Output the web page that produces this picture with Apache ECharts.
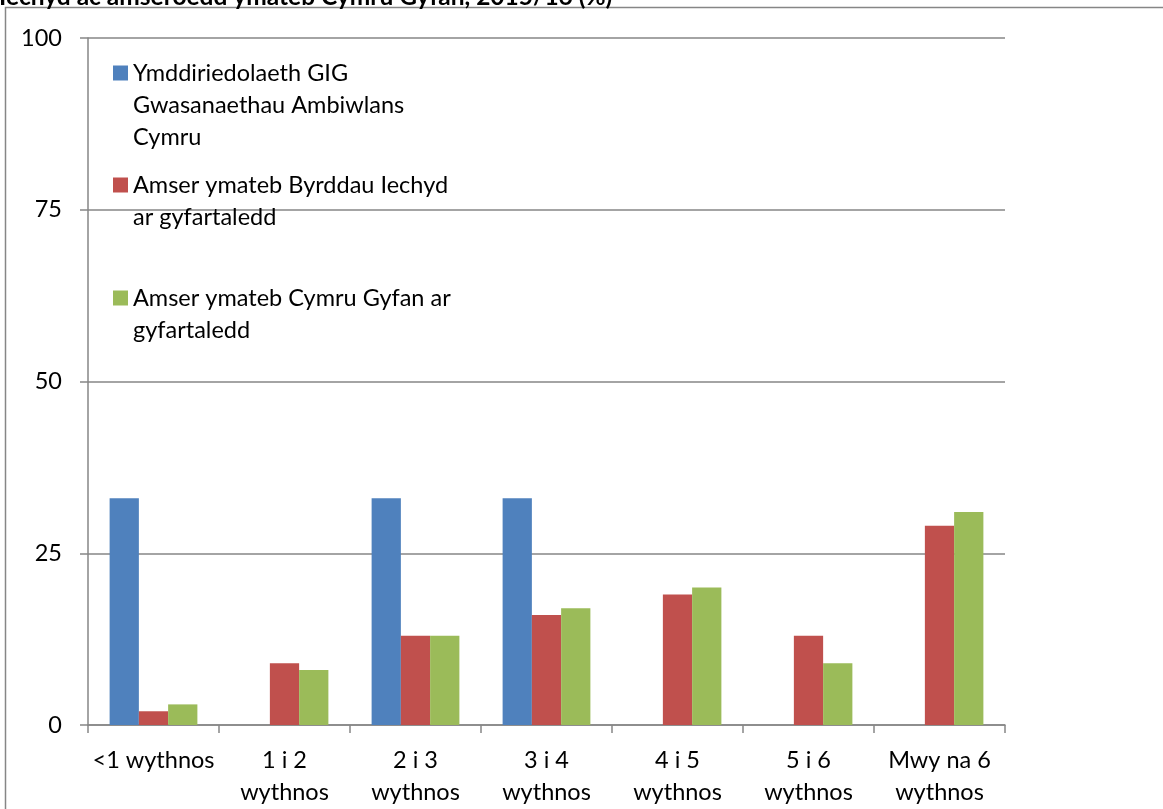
<!DOCTYPE html>
<html>
<head>
<meta charset="utf-8">
<script src="https://cdn.jsdelivr.net/npm/echarts@6/dist/echarts.min.js"></script>
<style>
html,body{margin:0;padding:0;background:#fff;}
#chart{width:1163px;height:809px;}
</style>
</head>
<body>
<div id="chart"></div>
<script>
const titleText = 'Iechyd ac amseroedd ymateb Cymru Gyfan, 2015/16 (%)';
const categories = ['<1 wythnos', '1 i 2\nwythnos', '2 i 3\nwythnos', '3 i 4\nwythnos', '4 i 5\nwythnos', '5 i 6\nwythnos', 'Mwy na 6\nwythnos'];
const seriesNames = [
  'Ymddiriedolaeth GIG\nGwasanaethau Ambiwlans\nCymru',
  'Amser ymateb Byrddau Iechyd\nar gyfartaledd',
  'Amser ymateb Cymru Gyfan ar\ngyfartaledd'
];
const ambulanceTrust = [33, null, 33, 33, null, null, null];
const healthBoards = [2, 9, 13, 16, 19, 13, 29];
const allWales = [3, 8, 13, 17, 20, 9, 31];
const yTicks = [0, 25, 50, 75, 100];

const colors = ['#4F81BD', '#C0504D', '#9BBB59'];
const FONT = 'Lato, "Open Sans", sans-serif';
const FS = 23.5;
const LH = 32;

const chart = echarts.init(document.getElementById('chart'), null, {renderer: 'canvas'});

const seriesData = [ambulanceTrust, healthBoards, allWales];
const iconCenters = [73, 185, 298];

const legends = seriesNames.map((name, i) => {
  const n = name.split('\n').length;
  return {
    show: true,
    orient: 'vertical',
    left: 113,
    top: iconCenters[i] - (2 * n - 1) * LH / 2,
    padding: 0,
    itemWidth: 15,
    itemHeight: 15,
    itemGap: 0,
    icon: 'rect',
    selectedMode: false,
    data: [name],
    formatter: (nm) => '\n'.repeat(nm.split('\n').length - 1) + nm,
    textStyle: {fontFamily: FONT, fontSize: FS, color: '#000', lineHeight: LH}
  };
});

const option = {
  animation: false,
  color: colors,
  title: {
    text: titleText,
    left: -1,
    top: -15,
    padding: 0,
    textStyle: {fontFamily: FONT, fontSize: 24.5, fontWeight: 'bold', color: '#000'}
  },
  graphic: [{
    type: 'rect',
    shape: {x: 5.5, y: 7.5, width: 1400, height: 1000},
    style: {fill: 'none', stroke: '#868686', lineWidth: 1.5},
    silent: true
  }],
  legend: legends,
  grid: {left: 88, right: 158, top: 38, bottom: 84, containLabel: false},
  xAxis: {
    type: 'category',
    data: categories,
    boundaryGap: true,
    axisLine: {lineStyle: {color: '#868686', width: 1.5}},
    axisTick: {show: true, length: 8, lineStyle: {color: '#868686', width: 1.5}},
    axisLabel: {
      interval: 0,
      margin: 19,
      fontFamily: FONT,
      fontSize: FS,
      color: '#000',
      lineHeight: LH
    }
  },
  yAxis: {
    type: 'value',
    min: yTicks[0],
    max: yTicks[yTicks.length - 1],
    interval: 25,
    axisLine: {show: true, lineStyle: {color: '#868686', width: 1.5}},
    axisTick: {show: true, length: 8, lineStyle: {color: '#868686', width: 1.5}},
    splitLine: {show: true, lineStyle: {color: '#868686', width: 1.5}},
    axisLabel: {
      margin: 26,
      fontFamily: FONT,
      fontSize: FS,
      color: '#000'
    }
  },
  series: seriesNames.map((name, i) => ({
    name: name,
    type: 'bar',
    data: seriesData[i],
    barGap: '0%',
    barCategoryGap: '33%',
    itemStyle: {color: colors[i]}
  }))
};

chart.setOption(option);
</script>
</body>
</html>
